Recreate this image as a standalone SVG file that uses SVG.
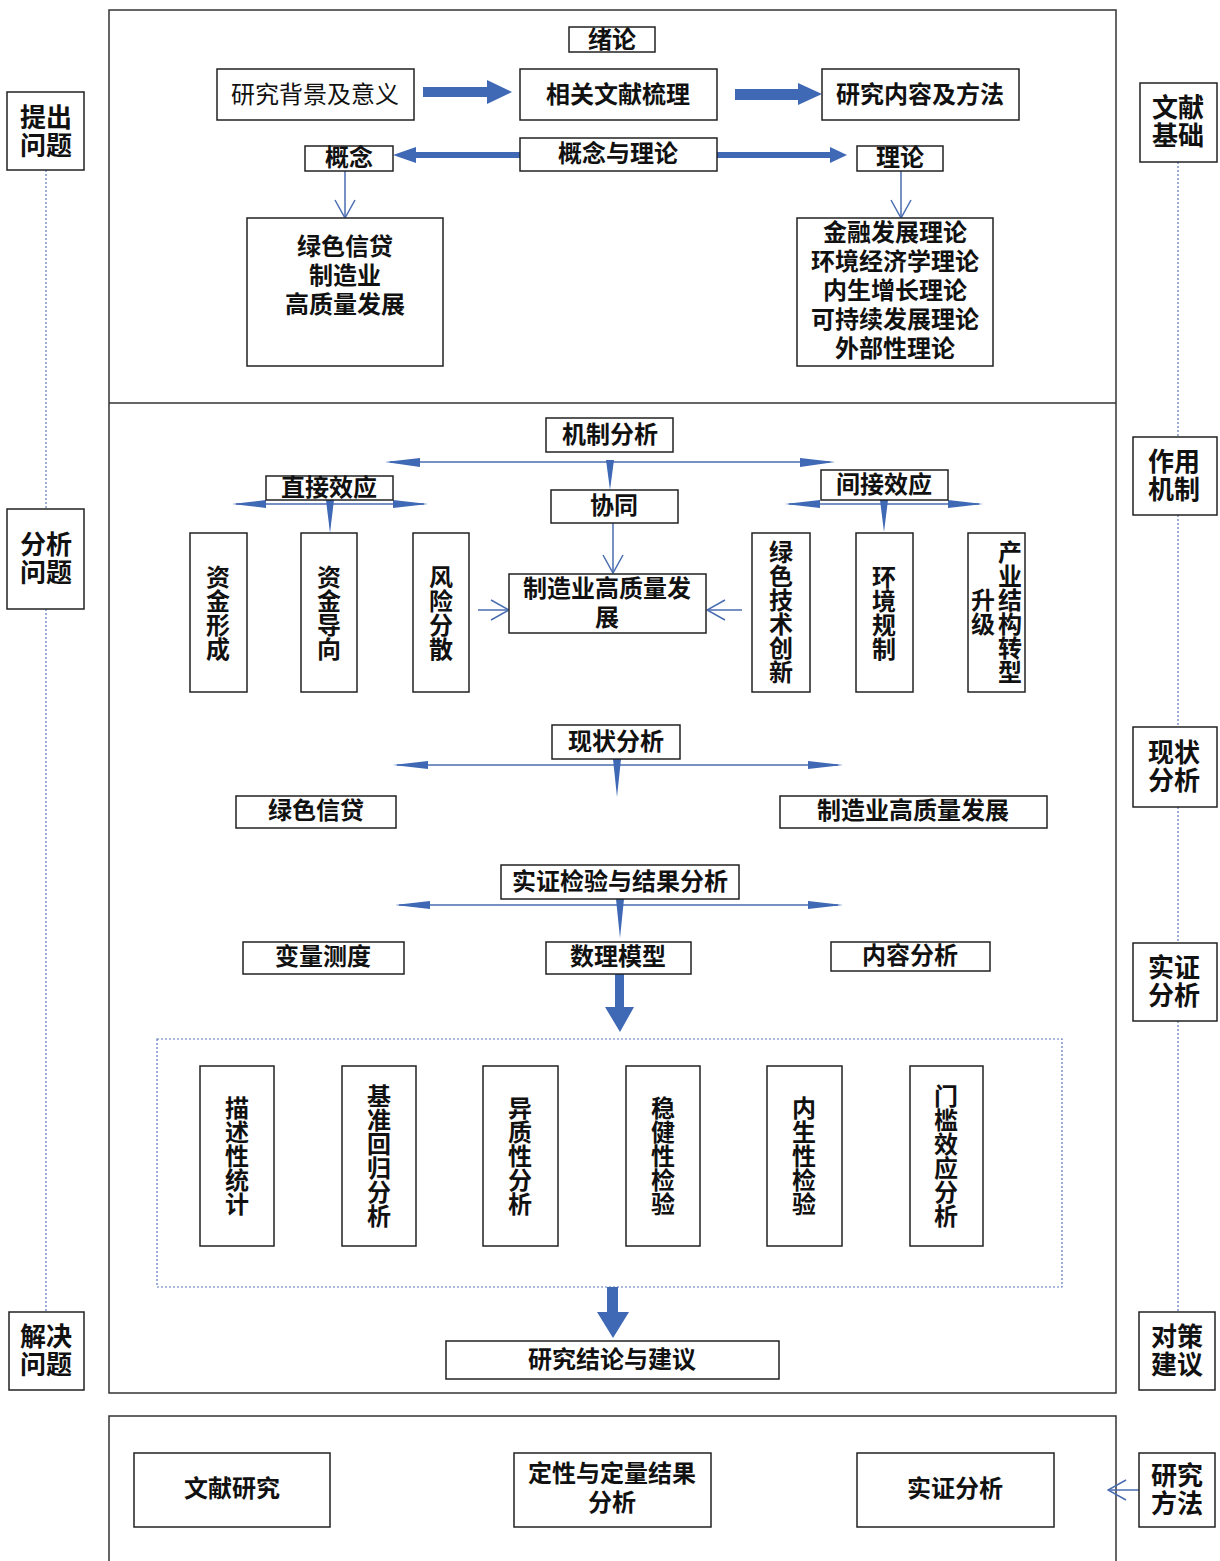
<svg xmlns="http://www.w3.org/2000/svg" width="1220" height="1561" viewBox="0 0 1220 1561">
<style>
.bg{fill:#fff}
.frame{fill:none;stroke:#333;stroke-width:1.5}
.box{fill:#fff;stroke:#222;stroke-width:1.5}
.t{font-family:"Noto Sans CJK SC","Noto Sans CJK JP",sans-serif;font-size:24px;font-weight:bold;fill:#111;text-anchor:middle;dominant-baseline:central}
.n{font-weight:normal}
.s{font-size:26px}
.v{writing-mode:vertical-rl;text-orientation:upright}
.thin{stroke:#4A6DB0;stroke-width:1.5;fill:none}
.blue{fill:#3F68B5;stroke:none}
.dot{stroke:#5A78B8;stroke-width:1.2;stroke-dasharray:2 2;fill:none}
</style>
<defs>
<marker id="open" viewBox="0 0 20 22" refX="19" refY="11" markerWidth="20" markerHeight="22" markerUnits="userSpaceOnUse" orient="auto">
<path d="M1,1 L19,11 L1,21" fill="none" stroke="#4A6DB0" stroke-width="1.5"/>
</marker>
</defs>
<rect class="bg" x="0" y="0" width="1220" height="1561"/>

<g id="frames">
<rect class="frame" x="109" y="10" width="1007" height="1383"/>
<line class="frame" x1="109" y1="403" x2="1116" y2="403"/>
<rect class="frame" x="109" y="1416" width="1007" height="160"/>
<rect class="dot" x="157" y="1039" width="905" height="248"/>
</g>

<g id="connectors">
<path class="blue" d="M423,87 H487 V80 L512,92 L487,104 V97 H423 Z"/>
<path class="blue" d="M735,89 H798 V83 L822,94 L798,105 V100 H735 Z"/>
<path class="blue" d="M520,152 H416 V147 L393,155 L416,163 V158 H520 Z"/>
<path class="blue" d="M717,152 H830 V147 L847,155 L830,163 V158 H717 Z"/>
<line class="thin" x1="345" y1="171" x2="345" y2="218" marker-end="url(#open)"/>
<line class="thin" x1="901" y1="171" x2="901" y2="218" marker-end="url(#open)"/>

<line class="thin" x1="390" y1="462" x2="830" y2="462"/>
<path class="blue" d="M385,462 L420,458 L420,467 Z"/>
<path class="blue" d="M835,462 L800,458 L800,467 Z"/>
<path class="blue" d="M606,460 L614,460 L610,490 Z"/>
<line class="thin" x1="236" y1="504" x2="424" y2="504"/>
<path class="blue" d="M232,504 L266,500 L266,508 Z"/>
<path class="blue" d="M428,504 L393,500 L393,508 Z"/>
<path class="blue" d="M326,500 L334,500 L330,533 Z"/>
<line class="thin" x1="789" y1="504" x2="979" y2="504"/>
<path class="blue" d="M785,504 L820,500 L820,508 Z"/>
<path class="blue" d="M983,504 L948,500 L948,508 Z"/>
<path class="blue" d="M880,500 L888,500 L884,532 Z"/>
<line class="thin" x1="613" y1="523" x2="613" y2="573" marker-end="url(#open)"/>
<line class="thin" x1="478" y1="610" x2="509" y2="610" marker-end="url(#open)"/>
<line class="thin" x1="742" y1="610" x2="707" y2="610" marker-end="url(#open)"/>

<line class="thin" x1="397" y1="765" x2="838" y2="765"/>
<path class="blue" d="M393,765 L428,761 L428,769 Z"/>
<path class="blue" d="M843,765 L808,761 L808,769 Z"/>
<path class="blue" d="M613,759 L621,759 L617,797 Z"/>

<line class="thin" x1="399" y1="905" x2="838" y2="905"/>
<path class="blue" d="M395,905 L430,901 L430,909 Z"/>
<path class="blue" d="M843,905 L808,901 L808,909 Z"/>
<path class="blue" d="M616,899 L624,899 L620,938 Z"/>
<path class="blue" d="M615,974 H624 V1007 H634 L620,1032 L605,1007 H615 Z"/>
<path class="blue" d="M607,1287 H618 V1312 H629 L613,1338 L597,1312 H607 Z"/>

<line class="thin" x1="1139" y1="1490" x2="1108" y2="1490" marker-end="url(#open)"/>

<line class="dot" x1="46" y1="170" x2="46" y2="509"/>
<line class="dot" x1="46" y1="609" x2="46" y2="1312"/>
<line class="dot" x1="1178" y1="162" x2="1178" y2="437"/>
<line class="dot" x1="1178" y1="515" x2="1178" y2="727"/>
<line class="dot" x1="1178" y1="807" x2="1178" y2="943"/>
<line class="dot" x1="1178" y1="1021" x2="1178" y2="1312"/>
</g>

<g id="n-xulun"><rect class="box" x="569" y="27" width="86" height="25"/><text class="t" x="612" y="37">绪论</text></g>
<g id="n-beijing"><rect class="box" x="217" y="69" width="197" height="51"/><text class="t n" x="315" y="92">研究背景及意义</text></g>
<g id="n-wenxian"><rect class="box" x="520" y="69" width="197" height="51"/><text class="t" x="618" y="92">相关文献梳理</text></g>
<g id="n-neirong"><rect class="box" x="822" y="69" width="197" height="51"/><text class="t" x="920" y="92">研究内容及方法</text></g>
<g id="n-gnyll"><rect class="box" x="520" y="138" width="197" height="33"/><text class="t" x="618" y="151">概念与理论</text></g>
<g id="n-gainian"><rect class="box" x="305" y="146" width="88" height="25"/><text class="t" x="349" y="155">概念</text></g>
<g id="n-lilun"><rect class="box" x="857" y="146" width="86" height="25"/><text class="t" x="900" y="155">理论</text></g>
<g id="n-gn-list"><rect class="box" x="247" y="218" width="196" height="148"/>
<text class="t"><tspan x="345" y="244">绿色信贷</tspan><tspan x="345" y="273">制造业</tspan><tspan x="345" y="302">高质量发展</tspan></text></g>
<g id="n-ll-list"><rect class="box" x="797" y="218" width="196" height="148"/>
<text class="t"><tspan x="895" y="230">金融发展理论</tspan><tspan x="895" y="259">环境经济学理论</tspan><tspan x="895" y="288">内生增长理论</tspan><tspan x="895" y="317">可持续发展理论</tspan><tspan x="895" y="346">外部性理论</tspan></text></g>

<g id="n-jizhi"><rect class="box" x="546" y="418" width="127" height="34"/><text class="t" x="610" y="432">机制分析</text></g>
<g id="n-xietong"><rect class="box" x="551" y="490" width="127" height="33"/><text class="t" x="614" y="503">协同</text></g>
<g id="n-zhijie"><rect class="box" x="266" y="476" width="127" height="24"/><text class="t" x="329" y="485">直接效应</text></g>
<g id="n-jianjie"><rect class="box" x="821" y="470" width="127" height="30"/><text class="t" x="884" y="482">间接效应</text></g>
<g id="n-zjxc"><rect class="box" x="190" y="533" width="57" height="159"/><text class="t v" x="218" y="613">资金形成</text></g>
<g id="n-zjdx"><rect class="box" x="301" y="533" width="56" height="159"/><text class="t v" x="329" y="613">资金导向</text></g>
<g id="n-fxfs"><rect class="box" x="413" y="533" width="56" height="159"/><text class="t v" x="441" y="613">风险分散</text></g>
<g id="n-zzy"><rect class="box" x="509" y="574" width="197" height="59"/><text class="t"><tspan x="607" y="586">制造业高质量发</tspan><tspan x="607" y="615">展</tspan></text></g>
<g id="n-lsjs"><rect class="box" x="752" y="533" width="58" height="159"/><text class="t v" x="781" y="612">绿色技术创新</text></g>
<g id="n-hjgz"><rect class="box" x="856" y="533" width="57" height="159"/><text class="t v" x="884" y="613">环境规制</text></g>
<g id="n-cyjg"><rect class="box" x="968" y="533" width="57" height="159"/><text class="t v"><tspan x="1010" y="612">产业结构转型</tspan><tspan x="983" y="612">升级</tspan></text></g>

<g id="n-xianzhuang"><rect class="box" x="552" y="725" width="128" height="34"/><text class="t" x="616" y="739">现状分析</text></g>
<g id="n-lsxd"><rect class="box" x="236" y="796" width="160" height="32"/><text class="t" x="316" y="808">绿色信贷</text></g>
<g id="n-zzyfz"><rect class="box" x="780" y="796" width="267" height="32"/><text class="t" x="913" y="808">制造业高质量发展</text></g>

<g id="n-shizheng"><rect class="box" x="501" y="865" width="238" height="34"/><text class="t" x="620" y="879">实证检验与结果分析</text></g>
<g id="n-blcd"><rect class="box" x="243" y="942" width="161" height="32"/><text class="t" x="323" y="954">变量测度</text></g>
<g id="n-slmx"><rect class="box" x="546" y="942" width="145" height="32"/><text class="t" x="618" y="954">数理模型</text></g>
<g id="n-nrfx"><rect class="box" x="831" y="942" width="159" height="29"/><text class="t" x="910" y="953">内容分析</text></g>

<g id="n-msxtj"><rect class="box" x="200" y="1066" width="74" height="180"/><text class="t v" x="237" y="1156">描述性统计</text></g>
<g id="n-jzhg"><rect class="box" x="342" y="1066" width="74" height="180"/><text class="t v" x="379" y="1156">基准回归分析</text></g>
<g id="n-yzx"><rect class="box" x="483" y="1066" width="75" height="180"/><text class="t v" x="520" y="1156">异质性分析</text></g>
<g id="n-wjx"><rect class="box" x="626" y="1066" width="74" height="180"/><text class="t v" x="663" y="1156">稳健性检验</text></g>
<g id="n-nsx"><rect class="box" x="767" y="1066" width="75" height="180"/><text class="t v" x="804" y="1156">内生性检验</text></g>
<g id="n-mkxy"><rect class="box" x="910" y="1066" width="73" height="180"/><text class="t v" x="946" y="1156">门槛效应分析</text></g>

<g id="n-jielun"><rect class="box" x="446" y="1341" width="333" height="38"/><text class="t" x="612" y="1357">研究结论与建议</text></g>

<g id="n-wxyj"><rect class="box" x="134" y="1453" width="196" height="74"/><text class="t" x="232" y="1486">文献研究</text></g>
<g id="n-dxdl"><rect class="box" x="514" y="1453" width="197" height="74"/><text class="t"><tspan x="612" y="1471">定性与定量结果</tspan><tspan x="612" y="1500">分析</tspan></text></g>
<g id="n-szfx"><rect class="box" x="857" y="1453" width="197" height="74"/><text class="t" x="955" y="1486">实证分析</text></g>

<g id="s-tcwt"><rect class="box" x="7" y="92" width="77" height="78"/><text class="t s"><tspan x="46" y="115">提出</tspan><tspan x="46" y="143">问题</tspan></text></g>
<g id="s-fxwt"><rect class="box" x="7" y="509" width="77" height="100"/><text class="t s"><tspan x="46" y="542">分析</tspan><tspan x="46" y="570">问题</tspan></text></g>
<g id="s-jjwt"><rect class="box" x="9" y="1312" width="75" height="78"/><text class="t s"><tspan x="46" y="1334">解决</tspan><tspan x="46" y="1362">问题</tspan></text></g>

<g id="s-wxjc"><rect class="box" x="1140" y="83" width="77" height="79"/><text class="t s"><tspan x="1178" y="105">文献</tspan><tspan x="1178" y="133">基础</tspan></text></g>
<g id="s-zyjz"><rect class="box" x="1133" y="437" width="84" height="78"/><text class="t s"><tspan x="1174" y="459">作用</tspan><tspan x="1174" y="487">机制</tspan></text></g>
<g id="s-xzfx"><rect class="box" x="1133" y="727" width="84" height="80"/><text class="t s"><tspan x="1174" y="750">现状</tspan><tspan x="1174" y="778">分析</tspan></text></g>
<g id="s-szfx"><rect class="box" x="1133" y="943" width="84" height="78"/><text class="t s"><tspan x="1174" y="965">实证</tspan><tspan x="1174" y="993">分析</tspan></text></g>
<g id="s-dcjy"><rect class="box" x="1139" y="1312" width="76" height="78"/><text class="t s"><tspan x="1177" y="1334">对策</tspan><tspan x="1177" y="1362">建议</tspan></text></g>
<g id="s-yjff"><rect class="box" x="1139" y="1453" width="76" height="74"/><text class="t s"><tspan x="1177" y="1473">研究</tspan><tspan x="1177" y="1501">方法</tspan></text></g>
</svg>
